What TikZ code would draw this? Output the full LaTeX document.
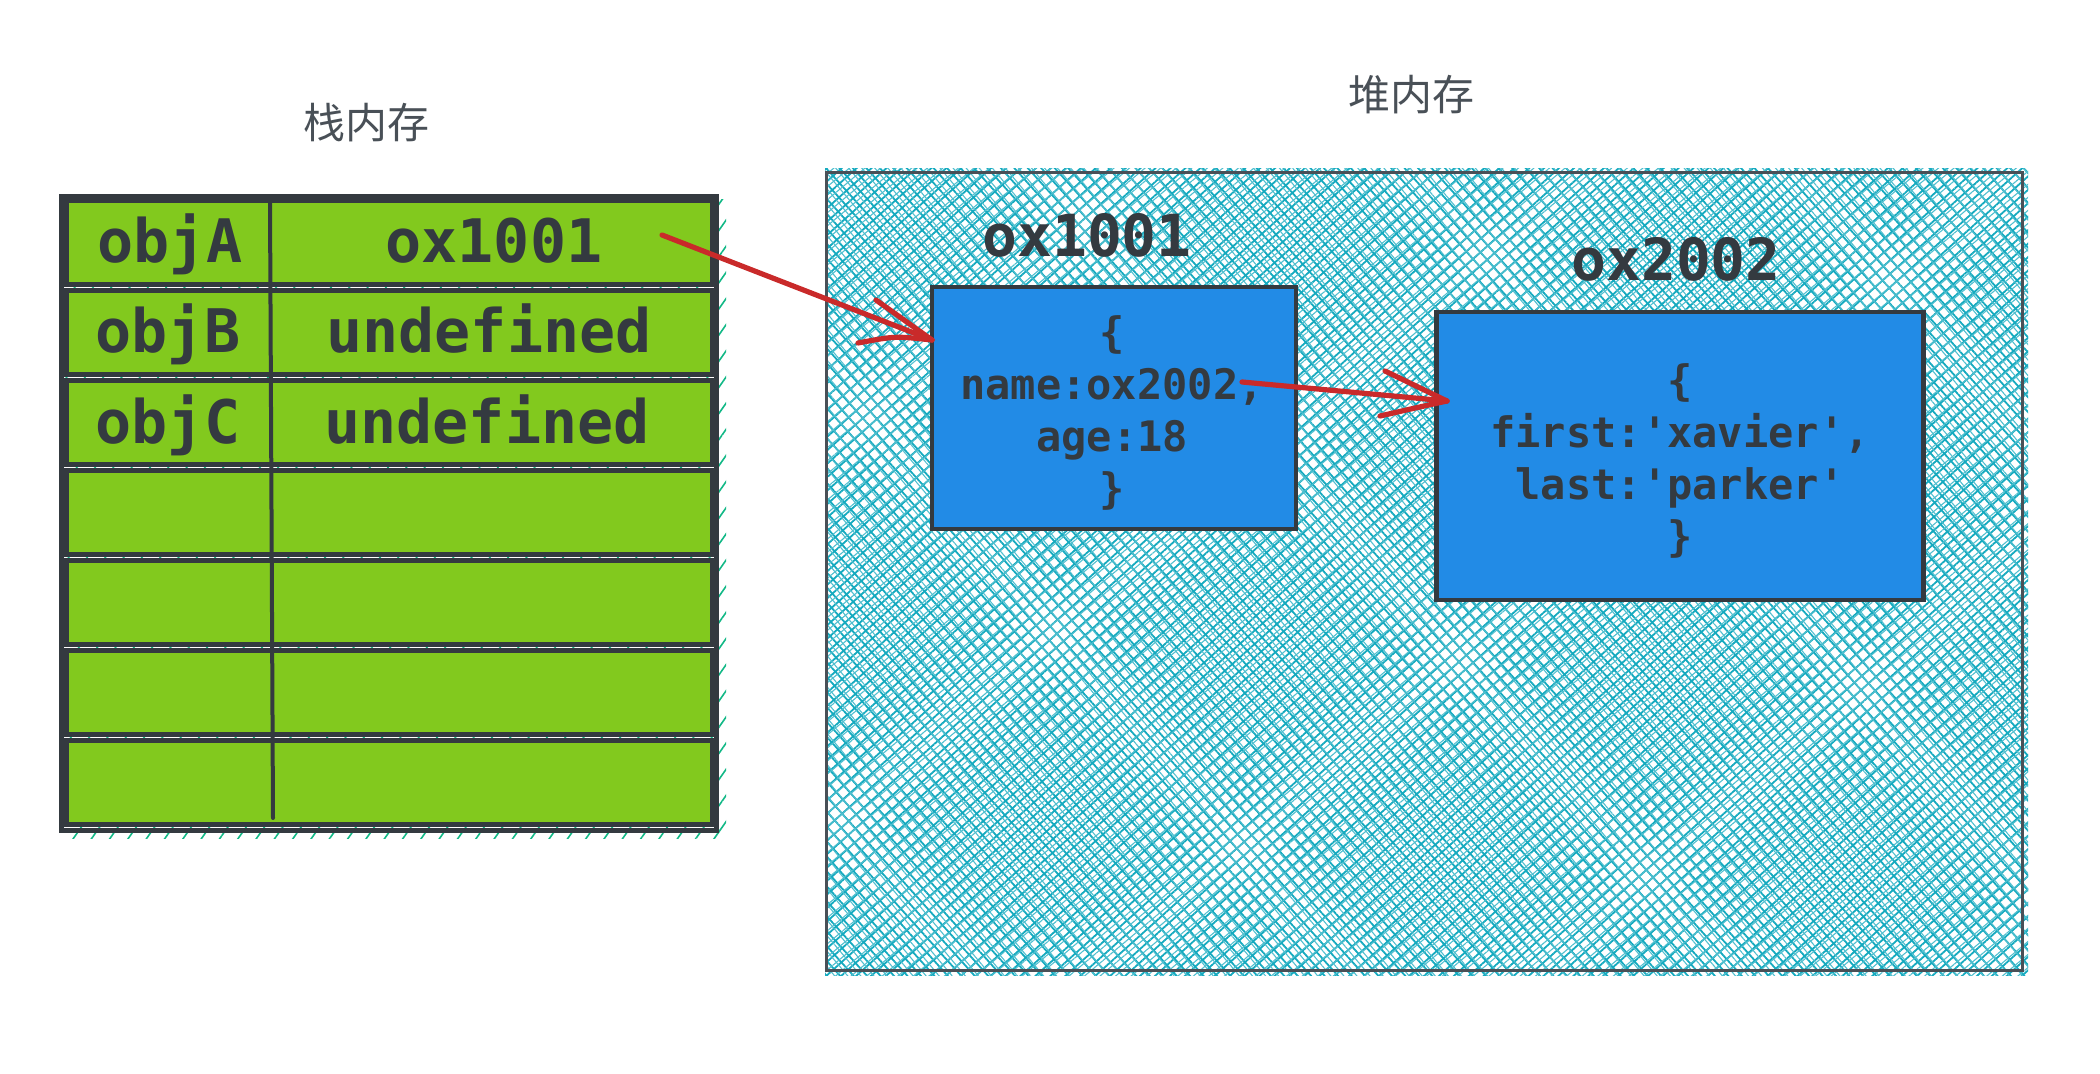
\documentclass[tikz,border=0pt]{standalone}
\usepackage{fontspec}
\setmonofont{DejaVu Sans Mono}
\newfontfamily\cjk{Noto Sans CJK SC}
\usetikzlibrary{patterns.meta}
\definecolor{ink}{HTML}{343A40}
\definecolor{inkgray}{HTML}{495057}
\definecolor{grnfill}{HTML}{82C91E}
\definecolor{bluefill}{HTML}{228BE6}
\definecolor{heapline}{HTML}{15AABF}
\definecolor{stackline}{HTML}{12B886}
\definecolor{arrowred}{HTML}{C92A2A}
\begin{document}
\begin{tikzpicture}[x=0.5pt,y=-0.5pt,
  rowbox/.style={draw=ink,line width=2.4pt,fill=grnfill,minimum width=323pt,minimum height=42pt,inner sep=0pt,anchor=north west},
  cell/.style={text=ink,font=\ttfamily\bfseries\fontsize{30}{36}\selectfont,anchor=base,inner sep=0pt},
  hdr/.style={text=ink,font=\ttfamily\bfseries\fontsize{29}{34}\selectfont,anchor=base,inner sep=0pt},
  objbox/.style={draw=ink,line width=2.4pt,fill=bluefill,text=ink,align=center,inner sep=0pt,
    font=\ttfamily\bfseries\fontsize{21}{26}\selectfont},
  cjklabel/.style={text=inkgray,font=\cjk\fontsize{21}{25}\selectfont,inner sep=0pt},
  redline/.style={draw=arrowred,line width=2.6pt,line cap=round,line join=round}
]
\useasboundingbox (0,0) rectangle (2100,1074);

% ---------- stack ----------
\fill[pattern={Lines[angle=55,distance=7.5pt,line width=0.8pt]},pattern color=stackline]
  (62,200) rectangle (726,838);
\node[draw=ink,line width=2.4pt,minimum width=327.5pt,minimum height=317pt,inner sep=0pt,anchor=north west]
  (stack) at (59,194) {};
\foreach \i in {0,...,6}{
  \node[rowbox] (r\i) at (64,{198+90*\i}) {};
}
\coordinate (dtop) at (270,202);
\coordinate (dbot) at (273,818);
\draw[ink,line width=2pt,line cap=round] (dtop) -- (dbot);

\node[cell] (kA) at (170,263) {objA};
\node[cell] (vA) at (494,263) {ox1001};
\node[cell] (kB) at (168,353) {objB};
\node[cell] (vB) at (489,353) {undefined};
\node[cell] (kC) at (168,444) {objC};
\node[cell] (vC) at (487,444) {undefined};

\node[cjklabel] (lstack) at (366,123) {栈内存};

% ---------- heap ----------
\fill[pattern={Lines[angle=42,distance=5pt,line width=0.9pt]},pattern color=heapline]
  (825,169) rectangle (2028,975);
\fill[pattern={Lines[angle=-48,distance=5pt,line width=0.9pt]},pattern color=heapline]
  (825,169) rectangle (2028,975);
\fill[pattern={Lines[angle=40,distance=5pt,line width=0.55pt,xshift=1.6pt]},pattern color=heapline!75]
  (825,169) rectangle (2028,975);
\fill[pattern={Lines[angle=-50,distance=5pt,line width=0.55pt,xshift=1.6pt]},pattern color=heapline!75]
  (825,169) rectangle (2028,975);
\node[draw=inkgray,line width=1.4pt,minimum width=598pt,minimum height=399pt,inner sep=0pt,anchor=north west]
  (heap) at (825,171) {};
\node[cjklabel] (lheap) at (1411,95) {堆内存};

\node[hdr] (h1) at (1087,257) {ox1001};
\node[hdr] (h2) at (1676,281) {ox2002};

\node[objbox,minimum width=182pt,minimum height=121pt,text depth=0pt] (b1) at (1114,408) {};
\node[objbox,draw=none,fill=none] (t1) at (1112,413)
  {\{\\name:ox2002,\\age:18\\\}};
\node[objbox,minimum width=243.5pt,minimum height=144pt] (b2) at (1680,456) {};
\node[objbox,draw=none,fill=none] (t2) at (1680,461)
  {\{\\first:'xavier',\\last:'parker'\\\}};

% ---------- arrows ----------
\coordinate (a1s) at (662,235);
\coordinate (a1t) at (932,340);
\coordinate (a1b1) at (858,343);
\coordinate (a1b2) at (876,300);
\draw[redline] (a1s) -- (a1t);
\draw[redline] (a1b1) .. controls (895,336) .. (a1t);
\draw[redline] (a1b2) -- (a1t);

\coordinate (a2s) at (1242,382);
\coordinate (a2t) at (1447,401);
\coordinate (a2b1) at (1385,371);
\coordinate (a2b2) at (1380,416);
\draw[redline] (a2s) -- (a2t);
\draw[redline] (a2b1) -- (a2t);
\draw[redline] (a2b2) .. controls (1415,408) .. (a2t);
\end{tikzpicture}
\end{document}
